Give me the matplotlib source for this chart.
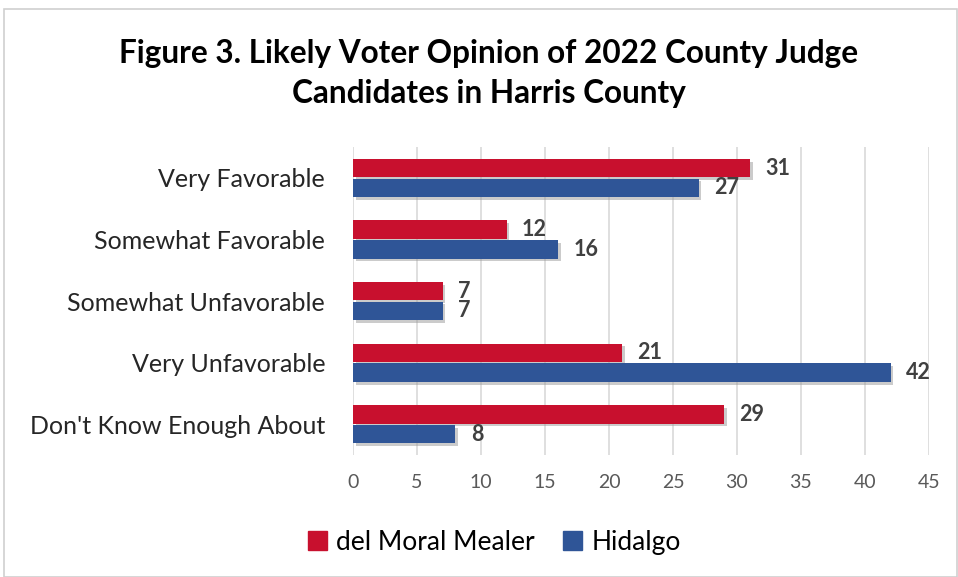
import matplotlib.pyplot as plt
import matplotlib.patheffects as pe
from matplotlib.patches import Rectangle, Patch

categorias = ["Very Favorable", "Somewhat Favorable", "Somewhat Unfavorable",
              "Very Unfavorable", "Don't Know Enough About"]
del_moral = [31, 12, 7, 21, 29]
hidalgo = [27, 16, 7, 42, 8]
ticks_x = [0, 5, 10, 15, 20, 25, 30, 35, 40, 45]

cor_vermelho = "#C8102E"
cor_azul = "#2F5597"

plt.rcParams['font.family'] = ['Lato', 'DejaVu Sans']

fig = plt.figure(figsize=(9.58, 5.77), dpi=100)
ax = fig.add_axes([0.3685, 0.2114, 0.6012, 0.5336])

# borda cinza em volta do grafico
fig.patches.append(Rectangle((0.004, 0.0), 0.995, 0.984, transform=fig.transFigure,
                             fill=False, edgecolor="#d0d0d0", linewidth=1.2))

pos = list(range(len(categorias)))
altura = 0.3
sombra = [pe.SimplePatchShadow(offset=(2, -2), shadow_rgbFace="#999999", alpha=0.5), pe.Normal()]

b1 = ax.barh([p - altura / 2 - 0.01 for p in pos], del_moral, height=altura,
             color=cor_vermelho, zorder=3)
b2 = ax.barh([p + altura / 2 + 0.01 for p in pos], hidalgo, height=altura,
             color=cor_azul, zorder=3)
for b in list(b1) + list(b2):
    b.set_path_effects(sombra)

for barras, valores in [(b1, del_moral), (b2, hidalgo)]:
    for b, v in zip(barras, valores):
        ax.text(v + 1.2, b.get_y() + b.get_height() / 2, str(v), va="center", ha="left",
                fontsize=15.5, fontweight="bold", color="#404040")

ax.set_xlim(0, 45)
ax.set_ylim(4.5, -0.5)
ax.set_xticks(ticks_x)
ax.set_yticks(pos)
ax.set_yticklabels(categorias, fontsize=18, color="#262626")
ax.tick_params(axis="x", labelsize=14, labelcolor="#595959", length=0, pad=14)
ax.tick_params(axis="y", length=0, pad=20)
ax.grid(axis="x", color="#d9d9d9", linewidth=1.2, zorder=0)
ax.set_axisbelow(True)
for s in ax.spines.values():
    s.set_visible(False)

fig.text(0.510, 0.873, "Figure 3. Likely Voter Opinion of 2022 County Judge\nCandidates in Harris County",
         ha="center", va="center", fontsize=22.7, fontweight="bold", color="black", linespacing=1.45)

legenda = [Patch(color=cor_vermelho, label="del Moral Mealer"), Patch(color=cor_azul, label="Hidalgo")]
fig.legend(handles=legenda, loc="center", bbox_to_anchor=(0.516, 0.06), ncol=2, frameon=False,
           fontsize=19, handlelength=0.7, handleheight=0.7, handletextpad=0.35, columnspacing=1.1)

fig.savefig("out.png", dpi=100)
